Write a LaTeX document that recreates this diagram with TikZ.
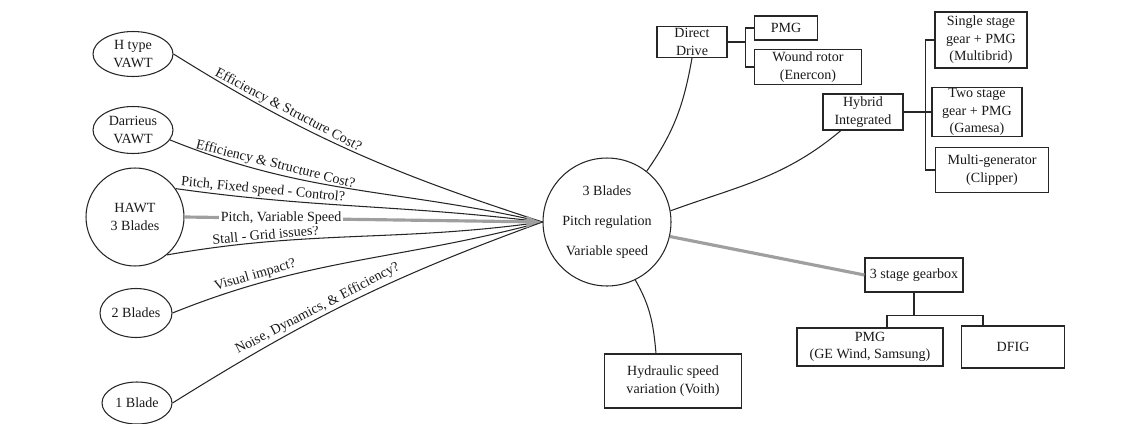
\documentclass[tikz,border=0pt]{standalone}
\usepackage{fontspec}
\setmainfont{Liberation Serif}
\usepackage{tikz}
\usetikzlibrary{shapes.geometric,arrows.meta}

\tikzset{
  every node/.style={font=\fontsize{8}{10}\selectfont, text=black!90},
  oval/.style={draw=black!85, ellipse, line width=0.6pt, inner sep=0pt, align=center},
  ring/.style={draw=black!85, circle, line width=0.6pt, inner sep=0pt, align=center},
  box/.style={draw=black!85, rectangle, line width=0.6pt, inner sep=0pt, align=center},
  link/.style={draw=black!85, line width=0.6pt},
  mainlink/.style={draw=gray!75, line width=1.8pt},
  lab/.style={sloped, above, inner sep=1pt}
}

\begin{document}
\begin{tikzpicture}[x=0.02cm, y=-0.02cm]
\useasboundingbox (0,0) rectangle (1143,423);

\node[oval, minimum width=1.6cm, minimum height=0.9cm] (htype) at (133,54) {H type\\VAWT};
\node[oval, minimum width=1.6cm, minimum height=0.94cm] (darr) at (133,130) {Darrieus\\VAWT};
\node[ring, minimum size=1.96cm] (hawt) at (135,217) {HAWT\\3 Blades};
\node[oval, minimum width=1.44cm, minimum height=0.98cm] (twob) at (136,313) {2 Blades};
\node[oval, minimum width=1.4cm, minimum height=0.84cm] (oneb) at (137,403) {1 Blade};

\node[ring, minimum size=2.56cm] (hub) at (607,222) {3 Blades\\[7pt]Pitch regulation\\[7pt]Variable speed};

\node[box, minimum width=1.4cm, minimum height=0.62cm] (dd) at (692,42) {Direct\\Drive};
\node[box, minimum width=1.26cm, minimum height=0.48cm] (pmg) at (786,28) {PMG};
\node[box, minimum width=2.14cm, minimum height=0.7cm] (wound) at (808,67) {Wound rotor\\(Enercon)};

\node[box, minimum width=1.6cm, minimum height=0.72cm] (hyb) at (863,112) {Hybrid\\Integrated};
\node[box, minimum width=1.84cm, minimum height=1.12cm] (single) at (981,40) {Single stage\\gear + PMG\\(Multibrid)};
\node[box, minimum width=1.8cm, minimum height=0.98cm] (twostage) at (977,112) {Two stage\\gear + PMG\\(Gamesa)};
\node[box, minimum width=2.26cm, minimum height=0.9cm] (multi) at (992,170) {Multi-generator\\(Clipper)};

\node[box, minimum width=1.96cm, minimum height=0.68cm] (gear) at (914,275) {3 stage gearbox};
\node[box, minimum width=2.92cm, minimum height=0.76cm] (pmgge) at (870,347) {PMG\\(GE Wind, Samsung)};
\node[box, minimum width=2.06cm, minimum height=0.84cm] (dfig) at (1013,347) {DFIG};

\node[box, minimum width=2.74cm, minimum height=1.08cm] (hyd) at (673,381) {Hydraulic speed\\variation (Voith)};

\draw[link] (htype.east) to[out=-32,in=162] node[lab, pos=0.3]{Efficiency \& Structure Cost?} (hub.west);
\draw[link] (darr.-15) to[out=-22,in=167] node[lab, pos=0.27]{Efficiency \& Structure Cost?} (hub.west);
\draw[link] (hawt.35) to[out=-8,in=173] node[lab, pos=0.22]{Pitch, Fixed speed - Control?} (hub.west);
\draw[link] (hawt.-50) to[out=10,in=188] node[lab, pos=0.25]{Stall - Grid issues?} (hub.west);
\draw[link] (twob.east) to[out=22,in=195] node[lab, pos=0.22]{Visual impact?} (hub.west);
\draw[link] (oneb.east) to[out=32,in=200] node[lab, pos=0.41]{Noise, Dynamics, \& Efficiency?} (hub.west);
\draw[mainlink, -{Latex[length=0.32cm,width=0.26cm]}] (hawt.east) -- node[fill=white, inner sep=1pt, pos=0.27]{Pitch, Variable Speed} (hub.west);

\draw[link] (hub.52) to[out=55,in=-100] (dd.south);
\draw[link] (dd.east) -- ++(18,0) coordinate (ddj);
\draw[link] (pmg.west) -| (ddj) |- (wound.west);

\draw[link] (hub.10) to[out=20,in=-140] (hyb.-140);
\draw[link] (hyb.east) -- ++(22,0) coordinate (hybj);
\draw[link] (single.west) -| (hybj) |- (multi.west);
\draw[link] (hybj) -- (twostage.west);

\draw[mainlink] (hub.-13) -- (gear.west);
\draw[link] (gear.south) -- ++(0,23) coordinate (gearj);
\draw[link] ([xshift=0.34cm]pmgge.north) |- (gearj) -| ([xshift=-0.6cm]dfig.north);

\draw[link] (hub.-64) to[out=-60,in=95] ([xshift=-0.34cm]hyd.north);

\end{tikzpicture}
\end{document}
